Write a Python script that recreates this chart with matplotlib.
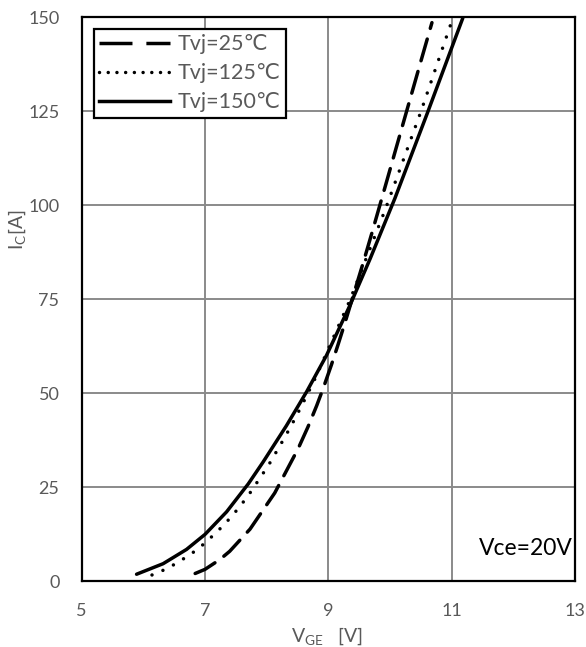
import matplotlib
matplotlib.use("Agg")
import matplotlib.pyplot as plt
from matplotlib.lines import Line2D

# Transfer characteristic I_C vs V_GE at Vce = 20 V
vge_25 = [6.84, 7.00, 7.24, 7.40, 7.73, 8.13, 8.51, 8.67, 8.81, 8.92, 9.05, 9.16,
          9.27, 9.57, 9.70, 9.81, 9.92, 10.10, 10.30, 10.50, 10.68]
ic_25 = [2.0, 3.1, 5.7, 7.9, 13.8, 23.4, 35.2, 41.0, 46.6, 51.4, 57.5, 63.0,
         68.7, 84.9, 92.2, 98.5, 104.8, 115.2, 126.7, 138.2, 148.5]

vge_125 = [6.14, 6.40, 6.76, 6.97, 7.19, 7.35, 7.54, 7.70, 8.03, 8.30, 8.46, 8.65,
           8.81, 9.35, 9.93, 10.50, 11.00]
ic_125 = [1.6, 3.4, 7.0, 9.7, 13.0, 15.7, 19.3, 22.7, 30.8, 38.4, 43.2, 49.3,
          54.7, 74.7, 99.1, 124.8, 148.8]

vge_150 = [5.89, 6.32, 6.70, 7.00, 7.35, 7.70, 7.94, 8.32, 8.65, 8.97, 9.35, 9.68,
           10.08, 10.60, 11.18]
ic_150 = [1.8, 4.6, 8.4, 12.4, 18.4, 25.8, 31.6, 41.3, 50.4, 60.0, 73.3, 85.8,
          101.8, 124.2, 149.7]

series_labels = ["Tvj=25\u2103", "Tvj=125\u2103", "Tvj=150\u2103"]
x_ticks = [5, 7, 9, 11, 13]
y_ticks = [0, 25, 50, 75, 100, 125, 150]

plt.rcParams["font.family"] = ["Lato", "DejaVu Sans"]

fig = plt.figure(figsize=(5.86, 6.47), dpi=100)
ax = fig.add_axes([81.7 / 586, 1 - 581 / 647, (575 - 81.7) / 586, (581 - 17) / 647])

grey_text = "#595959"
lw = 2.5

ax.plot(vge_25, ic_25, color="black", lw=lw, linestyle=(0, (6.5, 3.2)),
        dash_capstyle="round", solid_capstyle="round")
ax.plot(vge_125, ic_125, color="black", lw=lw, linestyle=(0, (0.01, 3.4)),
        dash_capstyle="round")
ax.plot(vge_150, ic_150, color="black", lw=lw, solid_capstyle="round")

ax.set_xlim(5, 13)
ax.set_ylim(0, 150)
ax.set_xticks(x_ticks)
ax.set_yticks(y_ticks)
ax.grid(True, color="#8a8a8a", lw=1.4)
ax.set_axisbelow(True)
ax.tick_params(length=0, labelsize=13, colors=grey_text)
ax.tick_params(axis="x", pad=16)
ax.tick_params(axis="y", pad=16)
for s in ax.spines.values():
    s.set_color("black")
    s.set_linewidth(1.6)

handles = [
    Line2D([], [], color="black", lw=lw, linestyle=(0, (9.5, 4.0))),
    Line2D([], [], color="black", lw=lw, linestyle=(0, (0.01, 2.5)), dash_capstyle="round"),
    Line2D([], [], color="black", lw=lw),
]
leg = ax.legend(handles, series_labels, loc="upper left", bbox_to_anchor=(0.025, 0.979),
                borderaxespad=0, fontsize=15.5, handlelength=3.3, handletextpad=0.35,
                labelspacing=0.42, borderpad=0.25, fancybox=False, framealpha=1,
                edgecolor="black")
leg.get_frame().set_linewidth(1.6)
for t in leg.get_texts():
    t.set_color(grey_text)

ax.text(0.995, 0.046, "Vce=20V", transform=ax.transAxes, ha="right", va="baseline",
        fontsize=16.5, color="black")

fig.text(17 / 586, 1 - 230 / 647, r"I$_\mathregular{C}$[A]", rotation=90,
         ha="center", va="center", fontsize=14, color=grey_text)
fig.text(327 / 586, 1 - 642 / 647, r"V$_\mathregular{GE}$   [V]", ha="center",
         va="baseline", fontsize=14, color=grey_text)

fig.savefig("out.png", dpi=100, facecolor="white")
